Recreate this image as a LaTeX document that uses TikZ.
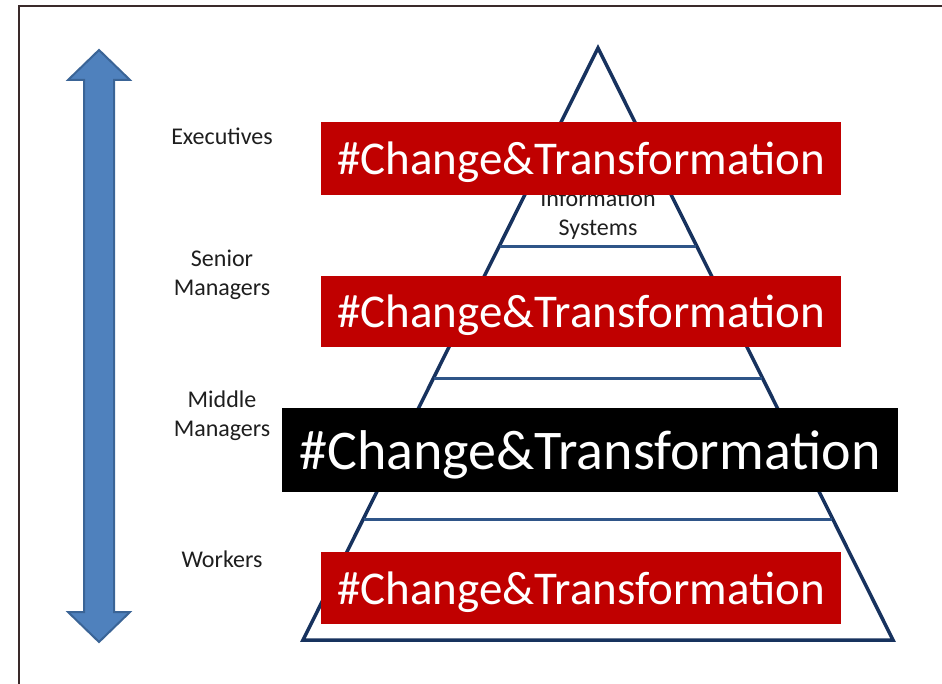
\documentclass[tikz,border=0pt]{standalone}
\usepackage{fontspec}
\setmainfont{Carlito}
\begin{document}
\definecolor{boxred}{HTML}{C00000}
\definecolor{pyrside}{HTML}{17325E}
\definecolor{pyrline}{HTML}{2F5588}
\definecolor{arrfill}{HTML}{4F81BD}
\definecolor{arrdraw}{HTML}{3A6496}
\definecolor{framecol}{HTML}{3A2A2A}
\definecolor{labcol}{HTML}{1E1E1E}
\tikzset{
  banner/.style={fill=boxred, text=white, inner sep=0pt, text depth=0pt, minimum width=520pt, font=\fontsize{47}{50}\selectfont},
  bannerblack/.style={fill=black, text=white, inner sep=0pt, text depth=0pt, minimum width=616pt, minimum height=84pt, font=\fontsize{56}{60}\selectfont},
  levellabel/.style={text=labcol, align=center, font=\fontsize{24}{29}\selectfont, inner sep=0pt},
  pyr/.style={draw=pyrside, line width=3.5pt, line join=miter},
  tier/.style={draw=pyrline, line width=3pt},
}
\begin{tikzpicture}[x=1pt, y=-1pt]
\useasboundingbox (0,0) rectangle (942,684);
% frame
\draw[framecol, line width=1.5pt] (19,684) -- (19,6) -- (942,6);
% pyramid
\coordinate (apex) at (598,48);
\coordinate (bl) at (303,640);
\coordinate (br) at (893,640);
\draw[pyr] (apex) -- (bl) -- (br) -- cycle;
\draw[tier] (500,247) -- (696,247);
\draw[tier] (434,378) -- (762,378);
\draw[tier] (364,519) -- (832,519);
\node[levellabel] (info) at (598,215) {Information\\Systems};
% banners
\node[banner, minimum height=73pt] (b1) at (581,158.5) {\#Change\&Transformation};
\node[banner, minimum height=71pt] (b2) at (581,311.5) {\#Change\&Transformation};
\node[bannerblack] (b3) at (590,450) {\#Change\&Transformation};
\node[banner, minimum height=72pt] (b4) at (581,588) {\#Change\&Transformation};
% labels
\node[levellabel] (exec) at (222,136) {Executives};
\node[levellabel] (senior) at (222,275) {Senior\\Managers};
\node[levellabel] (middle) at (222,416) {Middle\\Managers};
\node[levellabel] (workers) at (222,559) {Workers};
% double arrow
\draw[fill=arrfill, draw=arrdraw, line width=2pt, line join=miter]
  (99,50) -- (130,80) -- (114,80) -- (114,612) -- (130,612) -- (99,642)
  -- (68,612) -- (84,612) -- (84,80) -- (68,80) -- cycle;
\end{tikzpicture}
\end{document}
